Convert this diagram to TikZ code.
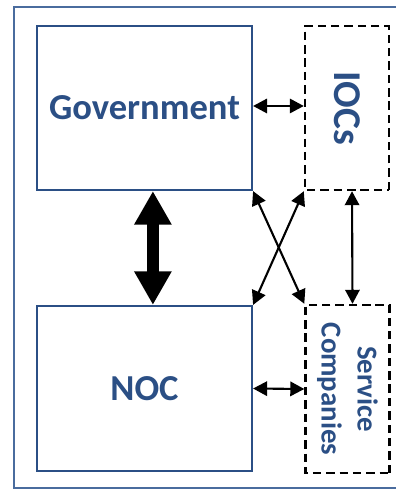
\documentclass[tikz,border=0pt]{standalone}
\usepackage{fontspec}
\setmainfont{Carlito}
\usetikzlibrary{arrows.meta}
\definecolor{c1}{HTML}{2B4F85}
\definecolor{c2}{HTML}{4A6C9E}

\begin{document}
\begin{tikzpicture}[x=0.025cm, y=-0.025cm,
  solidbox/.style={draw=c1, line width=1.5pt, text=c1, align=center,
                   font=\bfseries\fontsize{26}{31}\selectfont},
  dashbox/.style={draw=black, line width=1.7pt, dash pattern=on 6pt off 3.5pt,
                  text=c1, align=center, rotate=-90},
  arr/.style={{Triangle[length=0.35cm, width=0.36cm]}-{Triangle[length=0.35cm, width=0.36cm]},
              line width=1.5pt},
  bigarr/.style={{Triangle[length=0.84cm, width=0.88cm]}-{Triangle[length=0.84cm, width=0.88cm]},
                 line width=0.3cm}
]
  \useasboundingbox (0,0) rectangle (395,490);
  % Frame
  \draw[c2, line width=1pt] (14,7) rectangle (420,488);
  % Left column
  \node[solidbox, minimum width=5.375cm, minimum height=4.1cm] (gov) at (144.5,108) {Government};
  \node[solidbox, minimum width=5.375cm, minimum height=4.125cm] (noc) at (144.5,388.5) {NOC};
  % Right column (rotated: south is on the left, east at the bottom)
  \node[dashbox, minimum width=4.1cm, minimum height=2.1cm,
        font=\bfseries\fontsize{28}{33}\selectfont] (iocs) at (347,108) {IOCs};
  \node[dashbox, minimum width=4.2cm, minimum height=2.1cm,
        font=\bfseries\fontsize{20.5}{25.5}\selectfont] (sc) at (347.5,389) {Service\\Companies};

  \draw[bigarr] ([xshift=0.21cm]gov.south) -- ([xshift=0.21cm]noc.north);
  \draw[arr] ([yshift=0.05cm]gov.east) -- ([yshift=0.05cm]iocs.south);
  \draw[arr] (noc.east) -- (sc.south);
  \draw[arr] ([xshift=0.125cm]iocs.east) -- ([xshift=0.125cm]sc.west);
  \draw[arr] (gov.south east) -- (sc.south west);
  \draw[arr] (iocs.south east) -- (noc.north east);
\end{tikzpicture}
\end{document}
